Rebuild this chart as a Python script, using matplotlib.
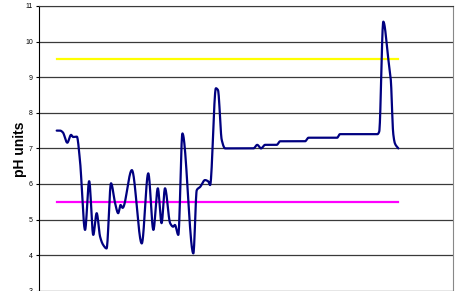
import matplotlib
matplotlib.use('Agg')
import matplotlib.pyplot as plt
import numpy as np

plt.rcParams['font.family'] = ['Liberation Sans', 'DejaVu Sans']

# readings (sample position, pH)
sample = [0, 1.0, 1.8, 3.1, 4.2, 4.8, 5.9, 6.8, 8.3, 9.5, 10.7, 11.7, 12.7, 13.6,
          14.6, 15.9, 17.1, 18.0, 18.7, 19.3, 22.0, 24.9, 26.8, 28.3, 29.6, 30.7,
          31.7, 33.2, 34.1, 34.6, 35.6, 36.8, 40.0, 41.0, 42.0, 43.4, 44.4, 44.9,
          46.6, 47.2, 48.3, 49.3, 57.6, 58.7, 59.8, 61.0, 64.4, 65.4, 72.7, 73.7,
          82.1, 82.9, 93.9, 94.4, 95.6, 97.1, 97.8, 98.5, 99.0, 100]
ph = [7.50, 7.50, 7.45, 7.16, 7.38, 7.32, 7.33, 6.67, 4.71, 6.08, 4.57, 5.18, 4.52, 4.29,
      4.19, 6.02, 5.46, 5.18, 5.41, 5.33, 6.39, 4.33, 6.30, 4.71, 5.88, 4.90,
      5.88, 4.90, 4.80, 4.85, 4.57, 7.42, 4.05, 5.83, 5.92, 6.11, 6.07, 5.97,
      8.69, 8.64, 7.24, 7.00, 7.00, 7.10, 7.00, 7.10, 7.10, 7.20, 7.20, 7.30,
      7.30, 7.40, 7.40, 7.47, 10.56, 9.48, 8.92, 7.42, 7.14, 7.00]

upper_limit = 9.5
lower_limit = 5.5
limit_span = [0, 100]
yticks = list(range(3, 12))


def smooth(x, y, n=1500):
    # monotone cubic (Fritsch-Carlson), gives Excel-like rounded line
    x = np.asarray(x, float)
    y = np.asarray(y, float)
    h = np.diff(x)
    d = np.diff(y) / h
    m = np.zeros_like(y)
    m[0], m[-1] = d[0], d[-1]
    for k in range(1, len(x) - 1):
        if d[k - 1] * d[k] > 0:
            w1 = 2 * h[k] + h[k - 1]
            w2 = h[k] + 2 * h[k - 1]
            m[k] = (w1 + w2) / (w1 / d[k - 1] + w2 / d[k])
    xs = np.linspace(x[0], x[-1], n)
    i = np.clip(np.searchsorted(x, xs) - 1, 0, len(x) - 2)
    t = (xs - x[i]) / h[i]
    h00 = 2 * t**3 - 3 * t**2 + 1
    h10 = t**3 - 2 * t**2 + t
    h01 = -2 * t**3 + 3 * t**2
    h11 = t**3 - t**2
    ys = h00 * y[i] + h10 * h[i] * m[i] + h01 * y[i + 1] + h11 * h[i] * m[i + 1]
    return xs, ys


fig = plt.figure(figsize=(4.56, 2.91), dpi=100)
# chart is cropped at the bottom, so the axes run past the figure edge
ax = fig.add_axes([39 / 456, -106.6 / 291, 414 / 456, 391.6 / 291])

for v in yticks:
    ax.axhline(v, color='#3a3a3a', lw=0.9, zorder=1)

ax.plot(limit_span, [upper_limit] * 2, color='#FFFF00', lw=1.6, zorder=2)
ax.plot(limit_span, [lower_limit] * 2, color='#FF00FF', lw=1.6, zorder=2)

xs, ys = smooth(sample, ph)
ax.plot(xs, ys, color='#000080', lw=1.6, zorder=3, solid_capstyle='round')

ax.set_xlim(-5.18, 116.0)
ax.set_ylim(0, 11)
ax.set_yticks(yticks)
ax.set_xticks([])
ax.tick_params(axis='y', direction='out', length=2.5, width=0.8, labelsize=5,
               pad=2, colors='black')
ax.spines['left'].set_color('black')
ax.spines['right'].set_color('#888888')
ax.spines['top'].set_color('#3a3a3a')
ax.spines['bottom'].set_visible(False)

fig.text(20 / 456, 1 - 149 / 291, 'pH units', rotation=90, ha='center', va='center',
         fontsize=10, fontweight='bold')

fig.savefig('out.png', dpi=100)
